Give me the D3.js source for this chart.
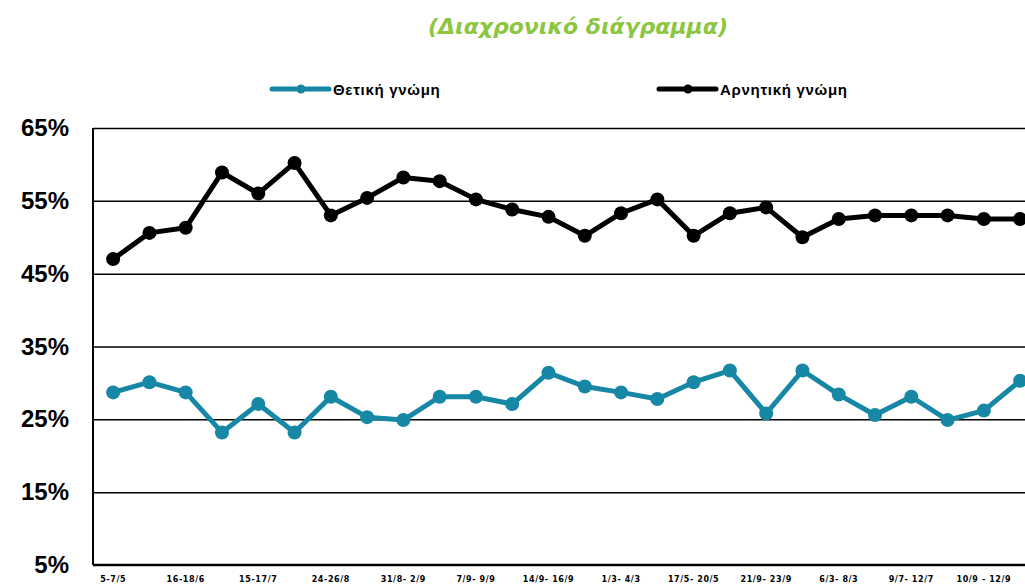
<!DOCTYPE html>
<html>
<head>
<meta charset="utf-8">
<script src="https://cdn.jsdelivr.net/npm/d3@7"></script>
<style>
  body { margin: 0; background: #fff; }
  svg { display: block; }
</style>
</head>
<body>
<script>
// Width and height
var w = 1025;
var h = 586;

// every other survey date is labelled on the axis
var tickLabels = ["5-7/5", "16-18/6", "15-17/7", "24-26/8", "31/8- 2/9", "7/9- 9/9",
                  "14/9- 16/9", "1/3- 4/3", "17/5- 20/5", "21/9- 23/9", "6/3- 8/3",
                  "9/7- 12/7", "10/9  - 12/9"];
var positive = [28.7, 30.1, 28.7, 23.2, 27.1, 23.2, 28.1, 25.3, 24.9, 28.1, 28.1, 27.1, 31.4,
                29.5, 28.7, 27.8, 30.1, 31.7, 25.8, 31.7, 28.4, 25.6, 28.1, 24.9, 26.2, 30.3];
var negative = [47.0, 50.6, 51.3, 58.9, 56.0, 60.2, 53.0, 55.4, 58.2, 57.7, 55.2, 53.8, 52.8,
                50.2, 53.3, 55.2, 50.2, 53.3, 54.1, 50.0, 52.5, 53.0, 53.0, 53.0, 52.5, 52.5];
var yTicks = [5, 15, 25, 35, 45, 55, 65];

var teal = "#1787a6";
var left = 93, plotTop = 128, bottom = 565;
var step = 36.28;

var svg = d3.select("body")
            .append("svg")
            .attr("width", w)
            .attr("height", h);

var x = d3.scaleBand()
          .domain(d3.range(positive.length))
          .range([left + 2, left + 2 + step * positive.length]);

var y = d3.scaleLinear()
          .domain([5, 65])
          .range([bottom, plotTop]);

// title
svg.append("text")
   .text("(Διαχρονικό διάγραμμα)")
   .attr("x", 578)
   .attr("y", 34)
   .attr("text-anchor", "middle")
   .attr("font-family", "'DejaVu Sans', sans-serif")
   .attr("font-size", "22px")
   .attr("font-weight", "bold")
   .attr("font-style", "italic")
   .attr("fill", "#8cc63f");

// gridlines
svg.append("g")
   .attr("transform", "translate(" + left + ",0)")
   .call(d3.axisLeft(y).tickValues(yTicks.slice(1)).tickSize(-(w - left)).tickFormat(""))
   .call(function(g) { g.select(".domain").remove(); })
   .selectAll("line")
   .attr("stroke", "#000")
   .attr("stroke-width", 1.5);

// y axis labels
svg.selectAll("text.ylab")
   .data(yTicks)
   .enter()
   .append("text")
   .attr("class", "ylab")
   .text(function(d) { return d + "%"; })
   .attr("x", 69)
   .attr("y", function(d) { return y(d) + 8; })
   .attr("text-anchor", "end")
   .attr("font-family", "'Liberation Sans', Arial, sans-serif")
   .attr("font-weight", "bold")
   .attr("font-size", "24px")
   .attr("fill", "#000");

// axis lines
svg.append("line")
   .attr("x1", left).attr("x2", left)
   .attr("y1", plotTop).attr("y2", bottom)
   .attr("stroke", "#000").attr("stroke-width", 2);
svg.append("line")
   .attr("x1", left).attr("x2", w)
   .attr("y1", bottom).attr("y2", bottom)
   .attr("stroke", "#000").attr("stroke-width", 2.5);

// x labels
svg.selectAll("text.xlab")
   .data(tickLabels)
   .enter()
   .append("text")
   .attr("class", "xlab")
   .text(function(d) { return d; })
   .attr("x", function(d, i) { return x(i * 2) + x.bandwidth() / 2; })
   .attr("y", 582)
   .attr("text-anchor", "middle")
   .attr("font-family", "'DejaVu Sans', sans-serif")
   .attr("font-weight", "bold")
   .attr("font-size", "8px")
   .attr("letter-spacing", "0.6px")
   .attr("fill", "#000");

var line = d3.line()
             .x(function(d, i) { return x(i) + x.bandwidth() / 2; })
             .y(function(d) { return y(d); });

var series = [
  { values: positive, color: teal },
  { values: negative, color: "#000" }
];

series.forEach(function(s) {
  svg.append("path")
     .datum(s.values)
     .attr("d", line)
     .attr("fill", "none")
     .attr("stroke", s.color)
     .attr("stroke-width", 5)
     .attr("stroke-linejoin", "round");
  svg.append("g")
     .selectAll("circle")
     .data(s.values)
     .enter()
     .append("circle")
     .attr("cx", function(d, i) { return x(i) + x.bandwidth() / 2; })
     .attr("cy", function(d) { return y(d); })
     .attr("r", 7)
     .attr("fill", s.color);
});

// legend
var legend = [
  { name: "Θετική γνώμη", color: teal, x: 272 },
  { name: "Αρνητική γνώμη", color: "#000", x: 659 }
];
legend.forEach(function(l) {
  svg.append("line")
     .attr("x1", l.x).attr("x2", l.x + 57)
     .attr("y1", 89).attr("y2", 89)
     .attr("stroke", l.color).attr("stroke-width", 5)
     .attr("stroke-linecap", "round");
  svg.append("circle")
     .attr("cx", l.x + 29).attr("cy", 89).attr("r", 4.5)
     .attr("fill", l.color);
  svg.append("text")
     .text(l.name)
     .attr("x", l.x + 61)
     .attr("y", 95)
     .attr("font-family", "'Liberation Sans', Arial, sans-serif")
     .attr("font-weight", "bold")
     .attr("font-size", "15px")
     .attr("letter-spacing", "0.7px")
     .attr("fill", "#000");
});
</script>
</body>
</html>
